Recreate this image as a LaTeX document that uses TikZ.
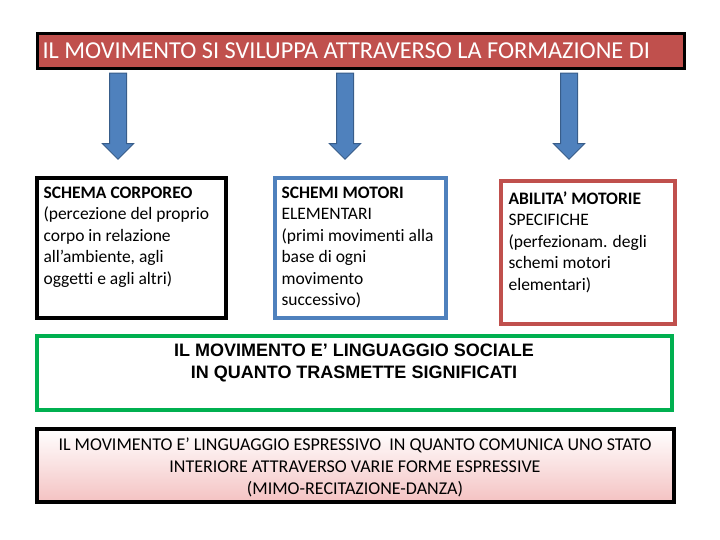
\documentclass[tikz,border=0pt]{standalone}
\usepackage{fontspec}
\setmainfont[Ligatures={NoCommon,NoRequired}]{Carlito}
\newfontfamily\arialfont{Liberation Sans}
\usetikzlibrary{shapes.arrows}
\definecolor{titlered}{HTML}{C0504D}
\definecolor{arrowblue}{HTML}{4F81BD}
\definecolor{arrowedge}{HTML}{385D8A}
\definecolor{boxred}{HTML}{C0504D}
\definecolor{boxgreen}{HTML}{00B050}
\definecolor{pinkfill}{HTML}{F4C2C2}

\begin{document}
\begin{tikzpicture}[x=1pt,y=-1pt,
  box/.style={draw,line width=3.5pt,rectangle},
  txt/.style={align=left,anchor=north west,font=\fontsize{17.5}{21.5}\selectfont},
  down/.style={single arrow,draw=arrowedge,fill=arrowblue,line width=1pt,
    minimum height=86pt,minimum width=30pt,single arrow head extend=7pt,
    single arrow tip angle=90,shape border rotate=270,inner sep=8pt}]
\useasboundingbox (0,0) rectangle (720,540);

% title bar
\draw [box,fill=titlered,line width=3pt] (37,34) rectangle (684,69);
\node (title) [anchor=west,text=white,font=\fontsize{24.3}{26}\selectfont] at (39,51)
  {IL MOVIMENTO SI SVILUPPA ATTRAVERSO LA FORMAZIONE DI};

% arrows
\node (a1) [down] at (118,112) {};
\node (a2) [down] at (345,112) {};
\node (a3) [down] at (569,112) {};

% three boxes
\draw [box] (37,178) rectangle (226,318);
\node (schema) [txt] at (40,183)
  {\textbf{SCHEMA CORPOREO}\\(percezione del proprio\\corpo in relazione\\all’ambiente, agli\\oggetti e agli altri)};

\draw [box,draw=arrowblue] (275,178) rectangle (446,318);
\node (schemi) [txt] at (278,183)
  {\textbf{SCHEMI MOTORI}\\ELEMENTARI\\(primi movimenti alla\\base di ogni\\movimento\\successivo)};

\draw [box,draw=boxred] (501,181) rectangle (675,324);
\node (abilita) [txt] at (505,188)
  {\textbf{ABILITA’ MOTORIE}\\SPECIFICHE\\(perfezionam. degli\\schemi motori\\elementari)};

% green box
\draw [box,draw=boxgreen] (37,336) rectangle (672,410);
\node (sociale) [align=center,font=\arialfont\bfseries\fontsize{18}{22}\selectfont] at (354,363)
  {IL MOVIMENTO E’ LINGUAGGIO SOCIALE\\IN QUANTO TRASMETTE SIGNIFICATI};

% bottom box
\shade [top color=white,bottom color=pinkfill] (37,429) rectangle (674,502);
\draw [box] (37,429) rectangle (674,502);
\node (espressivo) [align=center,font=\fontsize{18}{22}\selectfont] at (355,467)
  {IL MOVIMENTO E’ LINGUAGGIO ESPRESSIVO\ \ IN QUANTO COMUNICA UNO STATO\\INTERIORE ATTRAVERSO VARIE FORME ESPRESSIVE\\(MIMO-RECITAZIONE-DANZA)};
\end{tikzpicture}
\end{document}
